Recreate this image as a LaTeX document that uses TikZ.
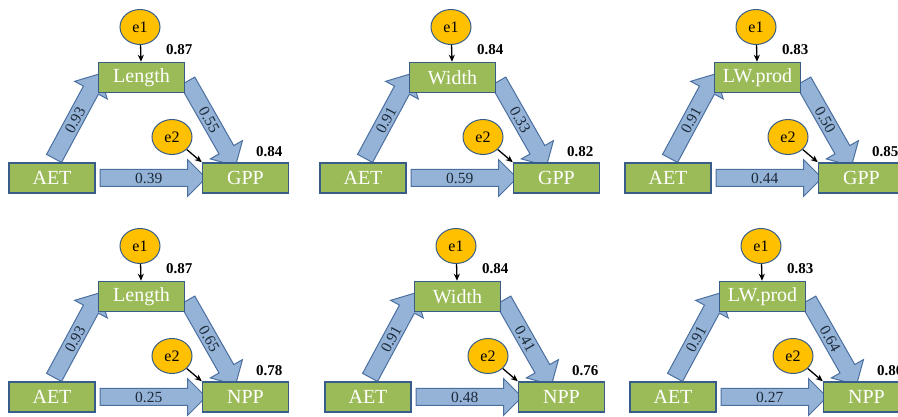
\documentclass[tikz,border=0pt]{standalone}
\usepackage{fontspec}
\setmainfont{Liberation Serif}
\usepackage{tikz}
\usetikzlibrary{shapes.arrows,shapes.geometric,arrows.meta,calc,backgrounds}

\definecolor{boxgreen}{HTML}{9BBB59}
\definecolor{boxline}{HTML}{385D8A}
\definecolor{arrowfill}{HTML}{95B3D7}
\definecolor{arrowline}{HTML}{4A6FA0}
\definecolor{errfill}{HTML}{FFC000}
\definecolor{pathtext}{HTML}{1C2A3A}

\tikzset{
  varbox/.style={draw=boxline, fill=boxgreen, line width=1.5pt,
    minimum width=86pt, minimum height=30pt, inner sep=0pt,
    text=white, font=\fontsize{20}{20}\selectfont},
  errnode/.style={ellipse, draw=boxline, fill=errfill, line width=1pt,
    minimum width=40pt, minimum height=35pt, inner sep=0pt,
    font=\fontsize{16}{16}\selectfont},
  patharrow/.style={single arrow, draw=arrowline, fill=arrowfill, line width=1pt,
    single arrow head extend=10pt, single arrow tip angle=90,
    text height=10.5pt, text depth=0pt, inner xsep=0pt, inner ysep=2.75pt,
    text=pathtext, font=\fontsize{15.5}{15.5}\selectfont},
  rsq/.style={font=\bfseries\fontsize{15}{15}\selectfont},
  errarrow/.style={-{Stealth[length=7pt,width=6pt]}, line width=1.3pt}
}

\begin{document}
\begin{tikzpicture}[x=1pt,y=1pt]
  \useasboundingbox (0,0) rectangle (898,417);
  % one panel per model: AET -> trait -> production
  \foreach \i/\ox/\oy/\mv/\ov/\wa/\wb/\wc/\rmid/\rout in {
      1/0/0/Length/GPP/0.93/0.55/0.39/0.87/0.84,
      2/311/0/Width/GPP/0.91/0.33/0.59/0.84/0.82,
      3/616/0/LW.prod/GPP/0.91/0.50/0.44/0.83/0.85,
      4/0/-219/Length/NPP/0.93/0.65/0.25/0.87/0.78,
      5/316/-219/Width/NPP/0.91/0.41/0.48/0.84/0.76,
      6/621/-219/LW.prod/NPP/0.91/0.64/0.27/0.83/0.80}
  {
    \begin{scope}[shift={(\ox,\oy)}]
      \node[varbox] (aet\i) at (52,239) {AET};
      \node[varbox] (mid\i) at (141.5,339.5) {\mv};
      \node[varbox] (out\i) at (245.5,239) {\ov};
      \node[errnode] (ea\i) at (140,390) {e1};
      \node[errnode] (eb\i) at (172,280) {e2};
      \node[rsq] (rm\i) at ($(mid\i.north east)+(-6,12)$) {\rmid};
      \node[rsq] (ro\i) at ($(out\i.north east)+(-20,11)$) {\rout};
      \draw[errarrow] (ea\i) -- (mid\i);
      \draw[errarrow] (eb\i) -- (out\i.north west);
      \begin{pgfonlayer}{background}
        \path let \p1=($(mid\i.west)-(aet\i.north)$), \n1={veclen(\x1,\y1)} in
          (aet\i.north) -- (mid\i.west)
          node[patharrow, midway, sloped, minimum height=\n1] {\wa};
        \path let \p1=($(out\i.north)+(-12,0)-(mid\i.east)$), \n1={veclen(\x1,\y1)} in
          (mid\i.east) -- ($(out\i.north)+(-12,0)$)
          node[patharrow, midway, sloped, minimum height=\n1] {\wb};
        \path let \p1=($(out\i.west)-(aet\i.east)$), \n1={veclen(\x1,\y1)} in
          (aet\i.east) -- (out\i.west)
          node[patharrow, midway, minimum height=\n1] {\wc};
      \end{pgfonlayer}
    \end{scope}
  }
\end{tikzpicture}
\end{document}
